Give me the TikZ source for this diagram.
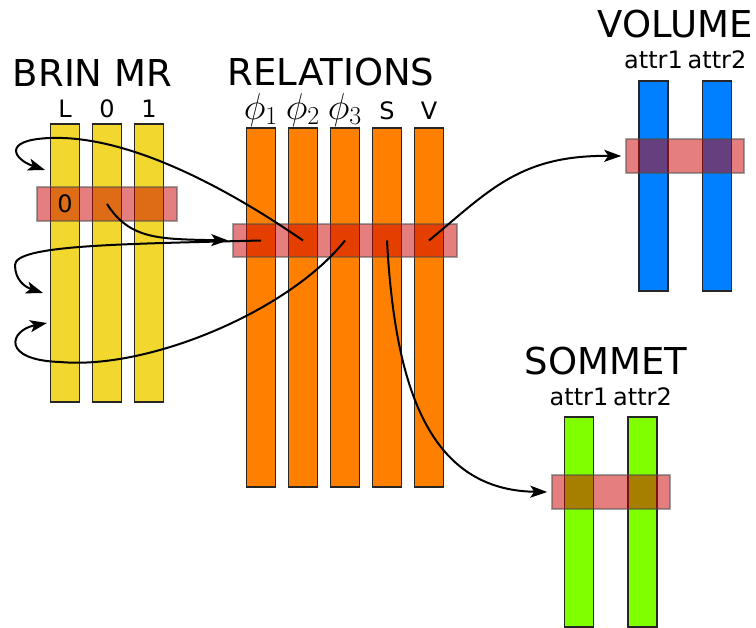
\documentclass[tikz,border=0pt]{standalone}
\usepackage{graphicx}
\usepackage{fontspec}
\setmainfont{DejaVu Sans}
\usepackage{tikz}
\usetikzlibrary{positioning,arrows.meta,calc}

\definecolor{brinyellow}{RGB}{242,215,46}
\definecolor{relorange}{RGB}{255,128,0}
\definecolor{volblue}{RGB}{0,128,255}
\definecolor{somgreen}{RGB}{128,255,0}
\definecolor{selred}{RGB}{204,0,0}

\tikzset{
  col/.style={draw=black!85, line width=1.2pt, minimum width=29pt, inner sep=0pt},
  band/.style={fill=selred, draw=black!70, line width=1.5pt, opacity=0.5, inner sep=0pt},
  title/.style={font=\fontsize{37}{40}\selectfont, anchor=base, inner sep=0pt, text depth=0pt},
  lab/.style={font=\fontsize{24}{26}\selectfont},
  link/.style={line width=2pt, -{Stealth[length=17pt,width=12pt,inset=4pt]}},
}

\begin{document}
\begin{tikzpicture}[x=1pt,y=-1pt]
  \useasboundingbox (0,0) rectangle (756,628);

  % tables
  \node[title] (brin) at (92.5,87) {BRIN MR};
  \node[title] (rel) at (331,86) {RELATIONS};
  \node[title] (vol) at (675,38) {VOLUME};
  \node[title] (som) at (606,375) {SOMMET};

  \foreach \n/\t [count=\i from 0] in {L/L, z/0, o/1} {
    \node[col, fill=brinyellow, minimum height=278pt] (b\n) at (65+42*\i,263) {};
    \node[lab, above=6pt of b\n, anchor=base] {\t};
  }
  \foreach \n/\t [count=\i from 0] in {a/{\scalebox{1.5}{$\phi_1$}}, b/{\scalebox{1.5}{$\phi_2$}}, c/{\scalebox{1.5}{$\phi_3$}}, s/S, v/V} {
    \node[col, fill=relorange, minimum height=359pt] (r\n) at (261+42*\i,307.5) {};
    \node[lab, above=8pt of r\n, anchor=base, inner sep=0pt] {\t};
  }
  \foreach \n/\t [count=\i from 0] in {a/attr1, b/attr2} {
    \node[col, fill=volblue, minimum height=210pt] (v\n) at (653.5+63.5*\i,186) {};
    \node[lab, above=12pt of v\n, anchor=base] {\t};
    \node[col, fill=somgreen, minimum height=210pt] (s\n) at (579+63.5*\i,522) {};
    \node[lab, above=11pt of s\n, anchor=base] {\t};
  }

  % selected rows
  \node[band, minimum width=140pt, minimum height=34pt] (brinsel) at (107,204) {};
  \node[band, minimum width=224pt, minimum height=33pt] (relsel) at (345,240.5) {};
  \node[band, minimum width=118pt, minimum height=34pt] (volsel) at (685,156) {};
  \node[band, minimum width=118pt, minimum height=34pt] (somsel) at (611,492) {};
  \node[lab] (zero) at (bL |- brinsel) {0};

  \coordinate (z0) at (bz |- brinsel);
  \foreach \n in {a,b,c,s,v}
    \coordinate (p\n) at (r\n |- relsel);
  \coordinate (inL1) at (45,170);
  \coordinate (inL2) at (43,293);
  \coordinate (inL3) at (47,323);
  \coordinate (inrel) at ([xshift=-4pt]relsel.west);
  \coordinate (invol) at ([xshift=-4pt]volsel.west);
  \coordinate (insom) at ([xshift=-4pt]somsel.west);

  % links
  \draw[link] (z0) .. controls (130,240) and (160,239) .. (inrel);
  \draw[link] (pb) .. controls (230,190) and (130,135) .. (50,138)
    .. controls (0,140) and (15,160) .. (inL1);
  \draw[link] (pa) .. controls (120,244) and (15,245) .. (15,265)
    .. controls (15,280) and (25,287) .. (inL2);
  \draw[link] (pc) .. controls (290,310) and (150,370) .. (60,362)
    .. controls (0,360) and (10,330) .. (inL3);
  \draw[link] (ps) .. controls (395,390) and (430,490) .. (insom);
  \draw[link] (pv) .. controls (490,190) and (520,155) .. (invol);
\end{tikzpicture}
\end{document}
